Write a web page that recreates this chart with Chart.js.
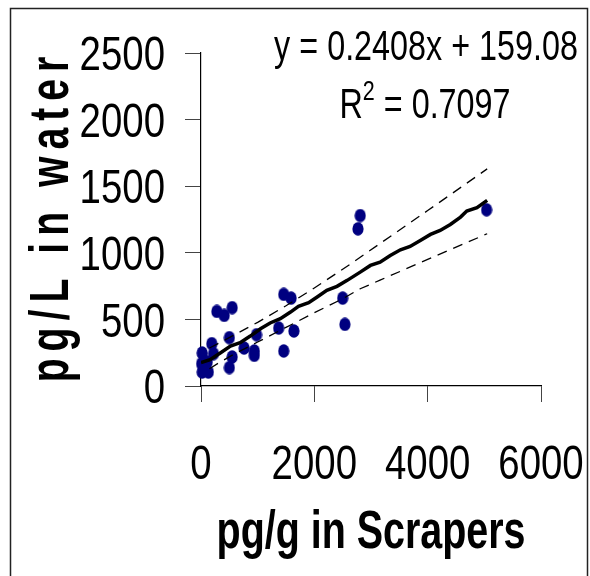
<!DOCTYPE html>
<html>
<head>
<meta charset="utf-8">
<script src="https://cdn.jsdelivr.net/npm/chart.js@4.4.1/dist/chart.umd.min.js"></script>
<style>
  body { margin: 0; background: #fff; }
  canvas { display: block; }
</style>
</head>
<body>
<canvas id="chart" width="590" height="576"></canvas>
<script>
// scatter: pg/g in scrapers (x) vs pg/L in water (y)
const scraperPg = [10, 20, 20, 50, 110, 130, 190, 220, 280, 410, 550, 500, 550, 500, 760, 940, 940, 980, 1370, 1460, 1590, 1640, 1460, 2500, 2540, 2770, 2810, 5040];
const waterPg = [168, 248, 105, 143, 180, 105, 318, 243, 560, 530, 588, 363, 218, 138, 285, 263, 230, 385, 435, 688, 660, 413, 263, 660, 463, 1180, 1280, 1323];

// fitted line (as drawn, slightly wavy)
const fitX = [0, 160, 340, 520, 690, 870, 1050, 1220, 1400, 1580, 1720, 1900, 2050, 2220, 2400, 2580, 2810, 2990, 3160, 3340, 3520, 3690, 3870, 4050, 4220, 4400, 4580, 4690, 4870, 5050];
const fitY = [175, 198, 248, 300, 325, 375, 430, 473, 505, 555, 598, 625, 668, 718, 748, 793, 855, 905, 930, 980, 1023, 1048, 1093, 1138, 1168, 1213, 1268, 1313, 1338, 1393];

// confidence bands
const bandX = [150, 300, 600, 1000, 1500, 2000, 2500, 2810, 3160, 4000, 5050];
const upperY = [285, 318, 386, 478, 602, 736, 876, 966, 1070, 1317, 1630];
const lowerY = [130, 170, 243, 330, 440, 550, 655, 730, 795, 950, 1143];

const xTicks = [0, 2000, 4000, 6000];
const yTicks = [0, 500, 1000, 1500, 2000, 2500];

const equation = "y = 0.2408x + 159.08";
const rSquared = "0.7097";

const toXY = (xs, ys) => xs.map((v, i) => ({ x: v, y: ys[i] }));

// navy elliptic marker
const dot = document.createElement("canvas");
dot.width = 12;
dot.height = 14;
const dctx = dot.getContext("2d");
dctx.fillStyle = "#000080";
dctx.beginPath();
dctx.ellipse(6, 7, 5.6, 6.8, 0, 0, Math.PI * 2);
dctx.fill();

const FONT = '"Liberation Sans", Arial, sans-serif';

function narrowText(ctx, txt, px, py, size, weight, align, sx) {
  ctx.save();
  ctx.translate(px, py);
  ctx.scale(sx, 1);
  ctx.font = weight + " " + size + "px " + FONT;
  ctx.textAlign = align;
  ctx.textBaseline = "middle";
  ctx.fillStyle = "#000";
  ctx.fillText(txt, 0, 0);
  ctx.restore();
}

const textPlugin = {
  id: "texts",
  beforeDraw(chart) {
    const ctx = chart.ctx;
    ctx.save();
    ctx.strokeStyle = "#222";
    ctx.lineWidth = 1.5;
    ctx.strokeRect(10.5, 8.5, 577, 620);
    ctx.restore();
  },
  afterDraw(chart) {
    const { ctx } = chart;
    const x = chart.scales.x;
    const y = chart.scales.y;

    yTicks.forEach((v) => {
      narrowText(ctx, String(v), 165, y.getPixelForValue(v) + 4, 48, "normal", "right", 0.8);
    });
    xTicks.forEach((v) => {
      narrowText(ctx, String(v), x.getPixelForValue(v), 466, 48, "normal", "center", 0.8);
    });

    narrowText(ctx, "pg/g in Scrapers", (x.left + x.right) / 2, 533, 54, "bold", "center", 0.73);

    // y title, rotated
    ctx.save();
    ctx.translate(53, (y.top + y.bottom) / 2);
    ctx.rotate(-Math.PI / 2);
    ctx.scale(0.7, 1);
    ctx.font = "bold 56px " + FONT;
    ctx.letterSpacing = "10px";
    ctx.textAlign = "center";
    ctx.textBaseline = "middle";
    ctx.fillStyle = "#000";
    ctx.fillText("pg/L in water", 5, 0);
    ctx.restore();

    // regression text
    narrowText(ctx, equation, 578, 48, 42, "normal", "right", 0.77);

    ctx.save();
    const sx = 0.77;
    ctx.font = "42px " + FONT;
    const wR = ctx.measureText("R").width * sx;
    const wRest = ctx.measureText(" = " + rSquared).width * sx;
    ctx.font = "28px " + FONT;
    const w2 = ctx.measureText("2").width * sx;
    ctx.restore();
    let left = 425 - (wR + w2 + wRest) / 2;
    narrowText(ctx, "R", left, 106, 42, "normal", "left", sx);
    narrowText(ctx, "2", left + wR, 92, 28, "normal", "left", sx);
    narrowText(ctx, " = " + rSquared, left + wR + w2, 106, 42, "normal", "left", sx);
  }
};

const axisGrid = { drawOnChartArea: false, drawTicks: true, tickLength: 16, color: "#444", lineWidth: 1 };

new Chart(document.getElementById("chart"), {
  type: "scatter",
  data: {
    datasets: [
      {
        data: toXY(scraperPg, waterPg),
        pointStyle: dot,
        pointRadius: 6,
        clip: false,
        order: 3
      },
      {
        data: toXY(fitX, fitY),
        showLine: true,
        borderColor: "#000",
        borderWidth: 3.5,
        pointRadius: 0,
        order: 1
      },
      {
        data: toXY(bandX, upperY),
        showLine: true,
        borderColor: "#000",
        borderWidth: 1.3,
        borderDash: [10, 7],
        pointRadius: 0,
        order: 2
      },
      {
        data: toXY(bandX, lowerY),
        showLine: true,
        borderColor: "#000",
        borderWidth: 1.3,
        borderDash: [10, 7],
        pointRadius: 0,
        order: 2
      }
    ]
  },
  options: {
    responsive: false,
    animation: false,
    events: [],
    layout: { padding: { left: 0, top: 53, right: 49, bottom: 0 } },
    plugins: { legend: { display: false }, tooltip: { enabled: false } },
    scales: {
      x: {
        type: "linear",
        min: 0,
        max: 6000,
        ticks: { display: false, stepSize: 2000 },
        grid: axisGrid,
        border: { color: "#000", width: 1.2 },
        afterFit(s) { s.height = 190; }
      },
      y: {
        type: "linear",
        min: 0,
        max: 2500,
        ticks: { display: false, stepSize: 500 },
        grid: axisGrid,
        border: { color: "#000", width: 1.2 },
        afterFit(s) { s.width = 201; }
      }
    }
  },
  plugins: [textPlugin]
});
</script>
</body>
</html>
